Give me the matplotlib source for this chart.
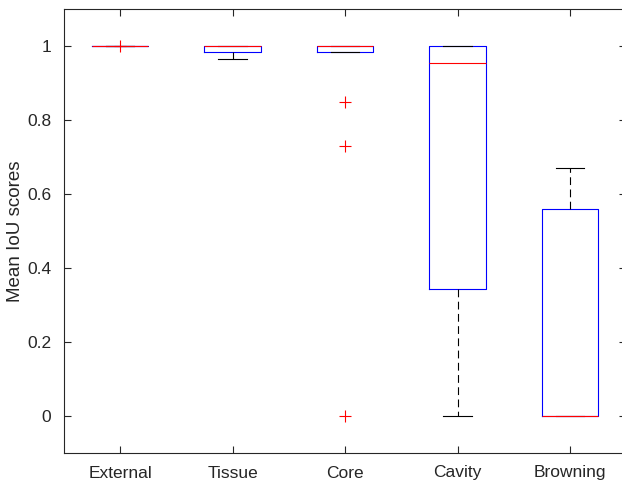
import matplotlib
matplotlib.use("Agg")
import matplotlib.pyplot as plt

categories = ["External", "Tissue", "Core", "Cavity", "Browning"]
q1 = [1.000, 0.983, 0.983, 0.343, 0.000]
med = [1.000, 0.999, 0.999, 0.953, 0.000]
q3 = [1.000, 1.000, 1.000, 1.000, 0.559]
whislo = [1.000, 0.964, 0.983, 0.000, 0.000]
whishi = [1.000, 1.000, 1.000, 1.000, 0.670]
fliers = [[0.999], [], [0.848, 0.729, 0.000], [], []]

yticks = [0, 0.2, 0.4, 0.6, 0.8, 1]
ytick_labels = ["0", "0.2", "0.4", "0.6", "0.8", "1"]

plt.rcParams["font.family"] = ["Liberation Sans", "DejaVu Sans"]
ink = "#262626"

stats = []
for i, name in enumerate(categories):
    stats.append(dict(label=name, q1=q1[i], med=med[i], q3=q3[i],
                      whislo=whislo[i], whishi=whishi[i], fliers=fliers[i]))

fig = plt.figure(figsize=(6.22, 4.82), dpi=100)
ax = fig.add_axes([63.75 / 622, 1 - 453 / 482, 562.5 / 622, 444 / 482])

ax.bxp(stats, positions=range(1, len(categories) + 1), widths=0.5,
       boxprops=dict(color="blue", linewidth=0.8),
       medianprops=dict(color="red", linewidth=0.8),
       whiskerprops=dict(color="black", linewidth=0.8, linestyle=(0, (7, 4))),
       capprops=dict(color="black", linewidth=0.8),
       flierprops=dict(marker="+", markeredgecolor="red", markersize=8,
                       markeredgewidth=0.8, linestyle="none"),
       capwidths=0.25)

ax.set_xlim(0.5, 5.5)
ax.set_ylim(-0.1, 1.1)
ax.set_yticks(yticks)
ax.set_yticklabels(ytick_labels)
ax.set_xticks(range(1, len(categories) + 1))
ax.set_xticklabels(categories)
ax.set_ylabel("Mean IoU scores", fontsize=13.5, color=ink)
ax.yaxis.set_label_coords(-0.071, 0.5)
ax.tick_params(direction="in", length=5, width=0.8, colors=ink,
               labelsize=12.5, top=True, right=True, pad=9)
for s in ax.spines.values():
    s.set_color(ink)
    s.set_linewidth(0.8)

fig.savefig("out.png", dpi=100)
